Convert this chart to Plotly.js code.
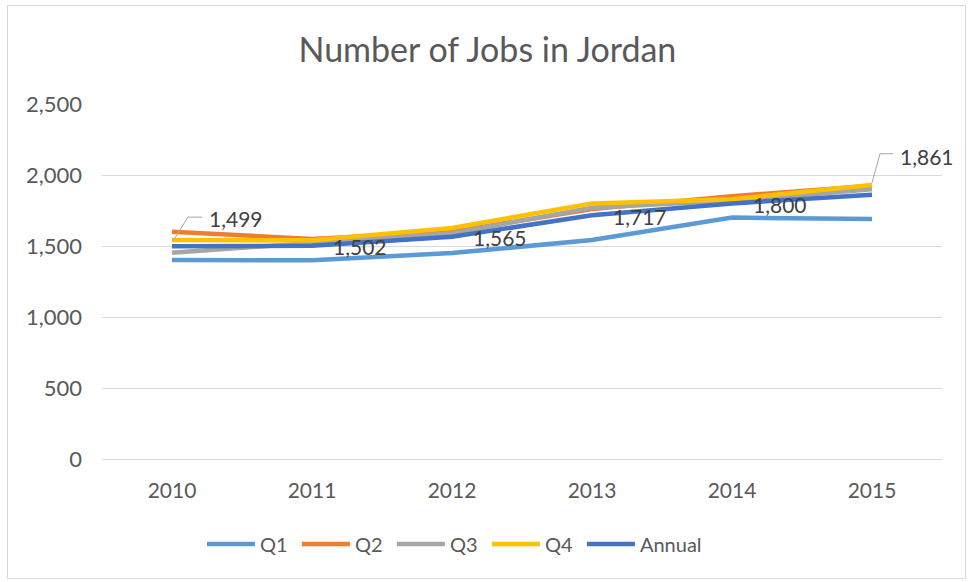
<!DOCTYPE html>
<html>
<head>
<meta charset="utf-8">
<script src="https://cdn.plot.ly/plotly-3.0.1.min.js"></script>
<style>
html,body{margin:0;padding:0;background:#fff;}
#frame{position:absolute;left:7px;top:5px;width:959px;height:574px;border:1px solid #d9d9d9;box-sizing:border-box;}
#chart{position:absolute;left:0;top:0;width:969px;height:582px;}
</style>
</head>
<body>
<div id="frame"></div>
<div id="chart"></div>
<script>
const years = ['2010','2011','2012','2013','2014','2015'];
const q1 = [1401, 1400, 1450, 1542, 1700, 1690];
const q2 = [1600, 1550, 1600, 1760, 1850, 1925];
const q3 = [1453, 1520, 1590, 1770, 1820, 1900];
const q4 = [1542, 1540, 1627, 1800, 1830, 1930];
const annual = [1499, 1502, 1565, 1717, 1800, 1861];
const annualLabels = ['1,499','1,502','1,565','1,717','1,800','1,861'];
const yTicks = [0, 500, 1000, 1500, 2000, 2500];
const yTickText = ['0','500','1,000','1,500','2,000','2,500'];

const FONT = 'Lato, "Open Sans", sans-serif';
const series = [
  {name:'Q1', y:q1, color:'#5B9BD5'},
  {name:'Q2', y:q2, color:'#ED7D31'},
  {name:'Q3', y:q3, color:'#A5A5A5'},
  {name:'Q4', y:q4, color:'#FFC000'},
  {name:'Annual', y:annual, color:'#4472C4'}
];
const traces = series.map(s => ({
  type:'scatter', mode:'lines', name:s.name, x:years, y:s.y,
  line:{color:s.color, width:4.5}, hoverinfo:'skip'
}));
// invisible spacer legend entry so the last legend label is not clipped
traces.push({type:'scatter', mode:'lines', name:' ', x:[years[0]], y:[null],
  line:{color:'rgba(0,0,0,0)', width:0}, hoverinfo:'skip', showlegend:true});

// data labels for Annual (category index positions); leader lines at first and last points
const annotations = [];
const shapes = [];
const LBL = {family:FONT, size:21, color:'#404040'};
annual.forEach((v,i) => {
  if (i === 0) {
    annotations.push({x:i, y:v, text:annualLabels[i], showarrow:false, xshift:64, yshift:28, font:LBL});
    shapes.push({type:'path', xref:'x', yref:'y', xsizemode:'pixel', ysizemode:'pixel',
      xanchor:i, yanchor:v, path:'M1,5 L16,29 L30,29', line:{color:'#a6a6a6', width:1}});
  } else if (i === annual.length-1) {
    annotations.push({x:i, y:v, text:annualLabels[i], showarrow:false, xshift:55, yshift:38, font:LBL});
    shapes.push({type:'path', xref:'x', yref:'y', xsizemode:'pixel', ysizemode:'pixel',
      xanchor:i, yanchor:v, path:'M0,12 L8,41 L21,41', line:{color:'#a6a6a6', width:1}});
  } else {
    annotations.push({x:i, y:v, text:annualLabels[i], showarrow:false, xshift:48, yshift:-1, font:LBL});
  }
});

const layout = {
  width:969, height:582,
  paper_bgcolor:'rgba(0,0,0,0)', plot_bgcolor:'rgba(0,0,0,0)',
  margin:{l:102, r:27, t:104, b:123},
  font:{family:FONT, color:'#595959'},
  title:{text:'Number of Jobs in Jordan', font:{family:FONT, size:34, color:'#595959'},
    xref:'container', x:0.503, xanchor:'center', yref:'container', y:0.914, yanchor:'middle'},
  xaxis:{type:'category', range:[-0.5, 5.5], autorange:false, showgrid:false, showline:false, zeroline:false, ticks:'',
    tickfont:{family:FONT, size:21, color:'#595959'}, ticklabelstandoff:17, fixedrange:true},
  yaxis:{range:[0,2500], autorange:false, tickvals:yTicks, ticktext:yTickText, showgrid:true, gridcolor:'#d9d9d9',
    gridwidth:1, zeroline:true, zerolinecolor:'#d9d9d9', zerolinewidth:1, showline:false, ticks:'',
    tickfont:{family:FONT, size:22, color:'#595959'}, ticklabelstandoff:19, fixedrange:true},
  showlegend:true,
  legend:{orientation:'h', xref:'container', yref:'container', x:0.5025, xanchor:'center',
    y:1-544/582, yanchor:'middle', font:{family:FONT, size:20, color:'#595959'},
    entrywidth:32, entrywidthmode:'pixels', itemwidth:48, bgcolor:'rgba(0,0,0,0)'},
  annotations:annotations,
  shapes:shapes
};
Plotly.newPlot('chart', traces, layout, {staticPlot:true, displayModeBar:false});
</script>
</body>
</html>
